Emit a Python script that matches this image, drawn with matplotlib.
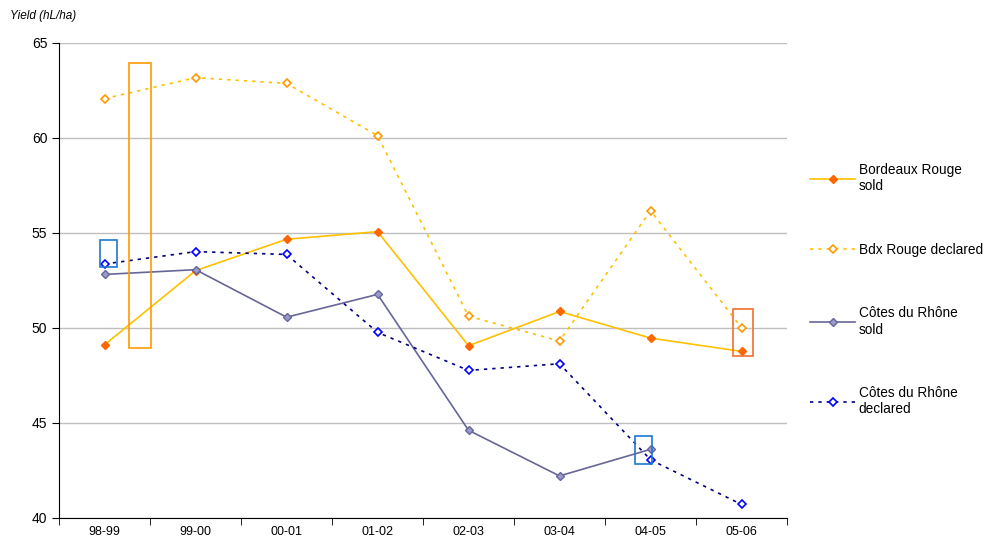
import matplotlib.pyplot as plt
from matplotlib.patches import Rectangle
import numpy as np

plt.rcParams['font.family'] = ['Liberation Sans', 'DejaVu Sans']

seasons = ['98-99', '99-00', '00-01', '01-02', '02-03', '03-04', '04-05', '05-06']
bdx_sold = [49.1, 53.0, 54.65, 55.05, 49.05, 50.85, 49.45, 48.75]
bdx_declared = [62.05, 63.15, 62.85, 60.1, 50.6, 49.3, 56.15, 50.0]
cdr_sold = [52.8, 53.05, 50.55, 51.75, 44.6, 42.2, 43.6, np.nan]
cdr_declared = [53.35, 54.0, 53.85, 49.75, 47.75, 48.1, 43.05, 40.7]

fig = plt.figure(figsize=(9.85, 5.45), dpi=100)
ax = fig.add_axes([0.06, 0.05, 0.739, 0.872])
x = np.arange(len(seasons))

ax.plot(x, bdx_sold, color='#FFC000', lw=1.2, marker='D', ms=4.5,
        mfc='#FF6600', mec='#FF6600', label='Bordeaux Rouge\nsold')
ax.plot(x, bdx_declared, color='#FFC000', lw=1.2, ls=(0, (2, 3)), marker='D', ms=4.5,
        mfc='white', mec='#FF9900', mew=1.2, label='Bdx Rouge declared')
ax.plot(x, cdr_sold, color='#666699', lw=1.2, marker='D', ms=4.5,
        mfc='#9999CC', mec='#666699', label='Côtes du Rhône\nsold')
ax.plot(x, cdr_declared, color='#000080', lw=1.2, ls=(0, (2, 3)), marker='D', ms=4.5,
        mfc='white', mec='#0000FF', mew=1.2, label='Côtes du Rhône\ndeclared')

# highlight boxes
boxes = [
    (0.27, 48.95, 0.245, 14.95, '#FF9900'),
    (-0.055, 53.2, 0.19, 1.4, '#1E78D2'),
    (5.83, 42.85, 0.19, 1.45, '#1E78D2'),
    (6.91, 48.5, 0.22, 2.5, '#F07030'),
]
for bx, by, bw, bh, c in boxes:
    ax.add_patch(Rectangle((bx, by), bw, bh, fill=False, ec=c, lw=1.2, zorder=5))

ax.set_xlim(-0.5, len(seasons) - 0.5)
ax.set_ylim(40, 65)
ax.set_yticks([40, 45, 50, 55, 60, 65])
ax.set_xticks(x)
ax.set_xticklabels(seasons)
ax.set_xticks(np.arange(-0.5, len(seasons)), minor=True)
ax.tick_params(axis='x', which='major', length=0, pad=6, labelsize=9)
ax.tick_params(axis='x', which='minor', length=5, direction='out', color='black')
ax.tick_params(axis='y', length=5, direction='out', labelsize=10)
ax.yaxis.grid(True, color='#BFBFBF', lw=1)
ax.set_axisbelow(True)
for s in ['top', 'right']:
    ax.spines[s].set_visible(False)
ax.spines['left'].set_color('black')
ax.spines['bottom'].set_color('black')

fig.text(0.01, 0.965, 'Yield (hL/ha)', fontsize=8.5, style='italic')

ax.legend(loc='center left', bbox_to_anchor=(1.015, 0.48), frameon=False,
          fontsize=9.8, labelspacing=3.65, handlelength=3.3, handletextpad=0.25)

fig.savefig('out.png', dpi=100)
